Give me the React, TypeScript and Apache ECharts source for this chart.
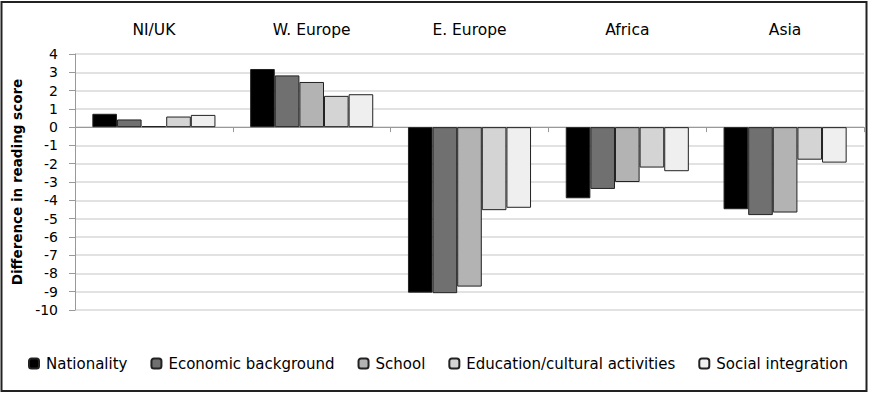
import React, { useEffect, useRef } from "react";
import * as echarts from "echarts";

const categories = ["NI/UK", "W. Europe", "E. Europe", "Africa", "Asia"];
const seriesNames = [
  "Nationality",
  "Economic background",
  "School",
  "Education/cultural activities",
  "Social integration",
];
const nationality = [0.73, 3.18, -9.05, -3.89, -4.49];
const economic = [0.42, 2.83, -9.08, -3.38, -4.81];
const school = [0.06, 2.47, -8.72, -3.0, -4.67];
const education = [0.58, 1.71, -4.54, -2.21, -1.78];
const social = [0.67, 1.8, -4.41, -2.41, -1.94];
const colors = ["#000000", "#707070", "#b3b3b3", "#d4d4d4", "#efefef"];

const FONT = "DejaVu Sans";

export default function App() {
  const ref = useRef<HTMLDivElement>(null);
  useEffect(() => {
    if (!ref.current) return;
    const chart = echarts.init(ref.current, undefined, { renderer: "svg" });
    const values = [nationality, economic, school, education, social];
    chart.setOption({
      animation: false,
      backgroundColor: "#ffffff",
      textStyle: { fontFamily: FONT },
      graphic: [
        {
          type: "rect",
          shape: { x: 1.5, y: 2, width: 865, height: 389 },
          style: { fill: "none", stroke: "#222", lineWidth: 2 },
          silent: true,
        },
      ],
      grid: { left: 75, right: 9, top: 54, bottom: 85 },
      legend: {
        data: seriesNames,
        left: 23,
        top: 351,
        width: 845,
        itemWidth: 10,
        itemHeight: 10,
        itemGap: 23,
        textStyle: { fontFamily: FONT, fontSize: 15, color: "#000", padding: [0, 0, 0, 2] },
      },
      xAxis: [
        {
          type: "category",
          data: categories,
          position: "top",
          axisLine: { show: true, onZero: true, lineStyle: { color: "#999", width: 1 } },
          axisTick: { show: true, inside: true, length: 5, lineStyle: { color: "#999" } },
          axisLabel: { show: false },
          splitLine: { show: false },
        },
        {
          type: "category",
          data: categories,
          position: "top",
          axisLine: { show: false, onZero: false },
          axisTick: { show: false },
          axisLabel: { show: true, margin: 16, fontFamily: FONT, fontSize: 15.5, color: "#000" },
        },
      ],
      yAxis: {
        type: "value",
        min: -10,
        max: 4,
        interval: 1,
        name: "Difference in reading score",
        nameLocation: "middle",
        nameGap: 46,
        nameTextStyle: { fontFamily: FONT, fontSize: 13.5, fontWeight: "bold", color: "#000" },
        axisLine: { show: true, lineStyle: { color: "#999", width: 1 } },
        axisTick: { show: true, length: 6, lineStyle: { color: "#999" } },
        axisLabel: { fontFamily: FONT, fontSize: 14, color: "#000", margin: 17 },
        splitLine: { show: true, lineStyle: { color: "#d9d9d9", width: 1.5 } },
      },
      series: seriesNames.map((name, i) => ({
        name,
        type: "bar",
        xAxisIndex: 0,
        data: values[i],
        barGap: "0%",
        barCategoryGap: "22%",
        itemStyle: { color: colors[i], borderColor: "#222", borderWidth: 1 },
      })),
    });
    return () => chart.dispose();
  }, []);
  return (
    <div
      ref={ref}
      style={{ position: "fixed", left: 0, top: 0, width: 873, height: 395 }}
    />
  );
}
